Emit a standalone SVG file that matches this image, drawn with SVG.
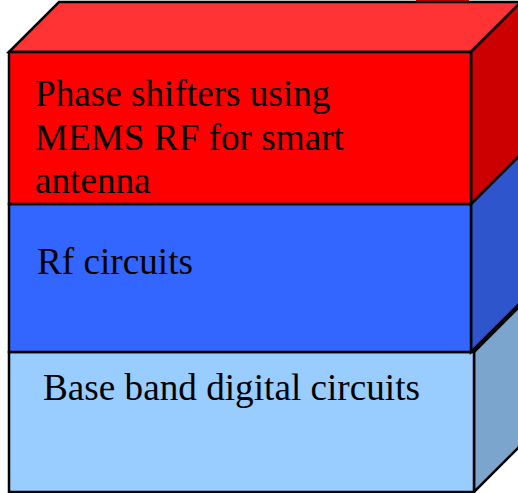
<svg xmlns="http://www.w3.org/2000/svg" width="518" height="493" viewBox="0 0 518 493">
<style>
.e{stroke:#000;stroke-width:2.5;stroke-linejoin:miter}
.t{font-family:"Liberation Serif","Times New Roman",serif;font-size:37.2px;fill:#000}
</style>
<rect width="518" height="493" fill="#fff"/>
<rect x="416" y="0" width="53" height="2" fill="#e00"/>
<g id="base">
<polygon class="e" points="474,352 524,302 524,442 474,492" fill="#7BA5CC"/>
<rect class="e" x="9" y="352" width="465" height="140" fill="#99CCFF"/>
<text class="t" x="43" y="400" textLength="377" lengthAdjust="spacingAndGlyphs">Base band digital circuits</text>
</g>
<g id="rf">
<polygon class="e" points="471,204 521,154 521,302 471,352" fill="#2F55CC"/>
<rect class="e" x="9" y="204" width="462" height="148" fill="#3366FF"/>
<text class="t" x="37" y="274">Rf circuits</text>
</g>
<g id="phase">
<polygon class="e" points="9,52 59,2 521,2 471,52" fill="#FF3333"/>
<polygon class="e" points="471,52 521,2 521,154 471,204" fill="#CC0000"/>
<rect class="e" x="9" y="52" width="462" height="152" fill="#FF0000"/>
<text class="t" x="35" y="106">Phase shifters using</text>
<text class="t" x="35" y="150">MEMS RF for smart</text>
<text class="t" x="35" y="193">antenna</text>
</g>
<g id="connectors"/>
</svg>
